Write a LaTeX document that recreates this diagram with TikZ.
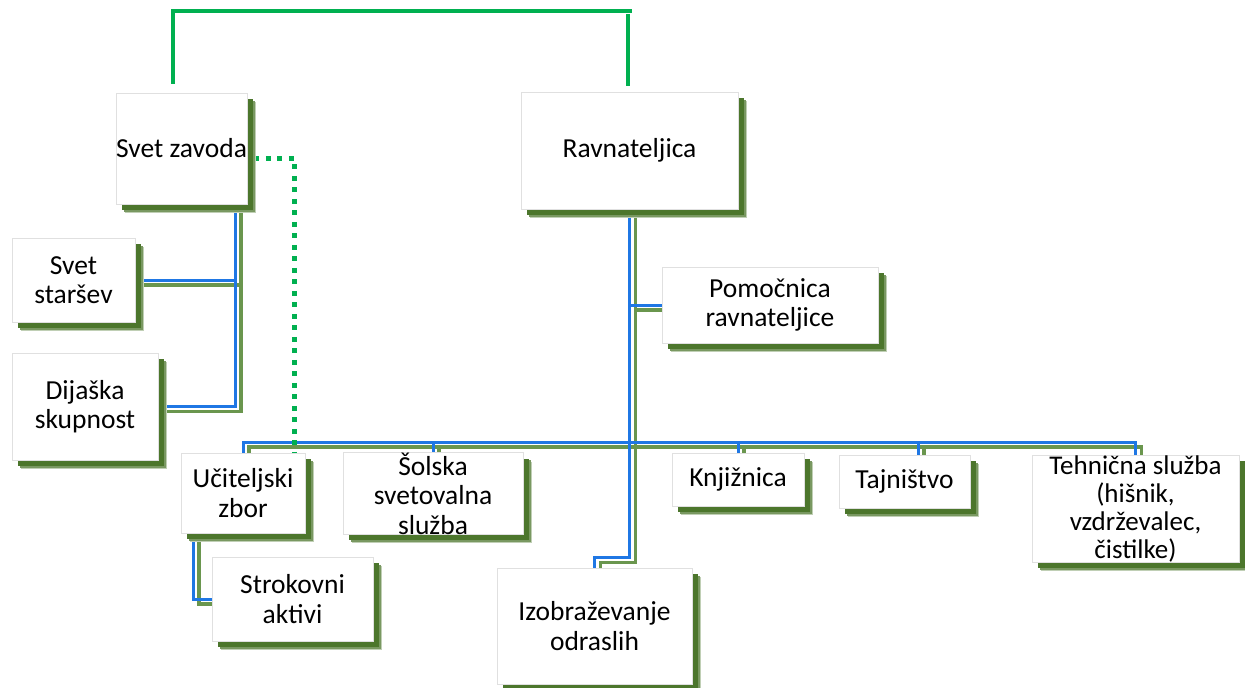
\documentclass[tikz,border=0pt]{standalone}
\usepackage{fontspec}
\setmainfont{Carlito}
\usetikzlibrary{shadows,backgrounds}
\definecolor{cblue}{RGB}{31,119,228}
\definecolor{cgreen}{RGB}{106,150,78}
\definecolor{brgreen}{RGB}{0,176,80}
\definecolor{shg}{RGB}{76,118,44}
\begin{document}
\begin{tikzpicture}[x=1pt,y=-1pt,
  box/.style={rectangle, fill=white, draw=black!12, line width=0.6pt, inner sep=0pt, align=center,
    font=\fontsize{27.5}{29.5}\selectfont,
    general shadow={fill=shg!35, shadow xshift=9pt, shadow yshift=-9pt},
    general shadow={fill=shg!75, shadow xshift=7.5pt, shadow yshift=-7.5pt},
    general shadow={fill=shg, shadow xshift=6pt, shadow yshift=-6pt}},
  bl/.style={draw=cblue, line width=3pt},
  gl/.style={draw=cgreen, line width=3.4pt, transform canvas={shift={(6pt,-5pt)}}},
  dotl/.style={draw=brgreen, line width=5pt, dash pattern=on 5pt off 6.5pt},
  topl/.style={draw=brgreen, line width=3.6pt}]
\useasboundingbox (0,0) rectangle (1245,688);

\node[box, minimum width=131, minimum height=111] (szv) at (181.5,148.5) {Svet zavoda};
\node[box, minimum width=217, minimum height=117] (rav) at (629.5,150.5) {Ravnateljica};
\node[box, minimum width=216, minimum height=76] (pom) at (770,305) {Pomočnica\\ravnateljice};
\node[box, minimum width=123, minimum height=84] (sst) at (73.5,280) {Svet\\staršev};
\node[box, minimum width=146, minimum height=107] (dij) at (85,406.5) {Dijaška\\skupnost};
\node[box, minimum width=124, minimum height=80] (uzb) at (243,493) {Učiteljski\\zbor};
\node[box, minimum width=180, minimum height=79] (ssl) at (433,493.5) {Šolska\\svetovalna\\služba};
\node[box, minimum width=161, minimum height=84] (str) at (292.5,599) {Strokovni\\aktivi};
\node[box, minimum width=195, minimum height=116] (izo) at (594.5,626) {Izobraževanje\\odraslih};
\node[box, minimum width=132, minimum height=53] (knj) at (738,479.5) {Knjižnica};
\node[box, minimum width=131, minimum height=53] (taj) at (904.5,481.5) {Tajništvo};
\node[box, minimum width=207, minimum height=107, font=\fontsize{27}{28}\selectfont] (teh) at (1135.5,508.5) {Tehnična služba\\(hišnik,\\vzdrževalec,\\čistilke)};

\coordinate (tA) at ([xshift=53.5pt]szv.south);
\coordinate (tU) at ([xshift=-50pt]uzb.south);
\coordinate (bus) at (0,442);
\coordinate (tT) at ([xshift=13.5pt]taj.north);
\coordinate (iz) at ([yshift=-348pt]rav.south);
\coordinate (dA) at ([xshift=7pt,yshift=-9.5pt]szv.east);
\coordinate (dB) at ([xshift=51pt]uzb.north);
\coordinate (t1) at ([xshift=-8.5pt,yshift=9pt]szv.north);
\coordinate (tr) at (632,11);
\coordinate (t2) at ([xshift=-1.5pt,yshift=6pt]rav.north);

\begin{pgfonlayer}{background}
\fill[white] (0,0) rectangle (1245,688);
\foreach \s in {gl,bl}{
  \draw[\s] (tA) |- (dij.east);
  \draw[\s] (sst.east) -- (sst.east -| tA);
  \draw[\s] (rav.south) -- (iz) -| (izo.north);
  \draw[\s] (pom.west) -- (pom.west -| rav.south);
  \draw[\s] (uzb.north) |- (bus -| teh.north) -- (teh.north);
  \draw[\s] (ssl.north) -- (ssl.north |- bus);
  \draw[\s] (knj.north) -- (knj.north |- bus);
  \draw[\s] (tT) -- (tT |- bus);
  \draw[\s] (tU) |- (str.west);
}
\draw[dotl] (dA) -| (dB);
\draw[topl] (t1) |- (tr);
\draw[topl] ([yshift=-3pt]tr -| t2) -- (t2);
\end{pgfonlayer}
\end{tikzpicture}
\end{document}
